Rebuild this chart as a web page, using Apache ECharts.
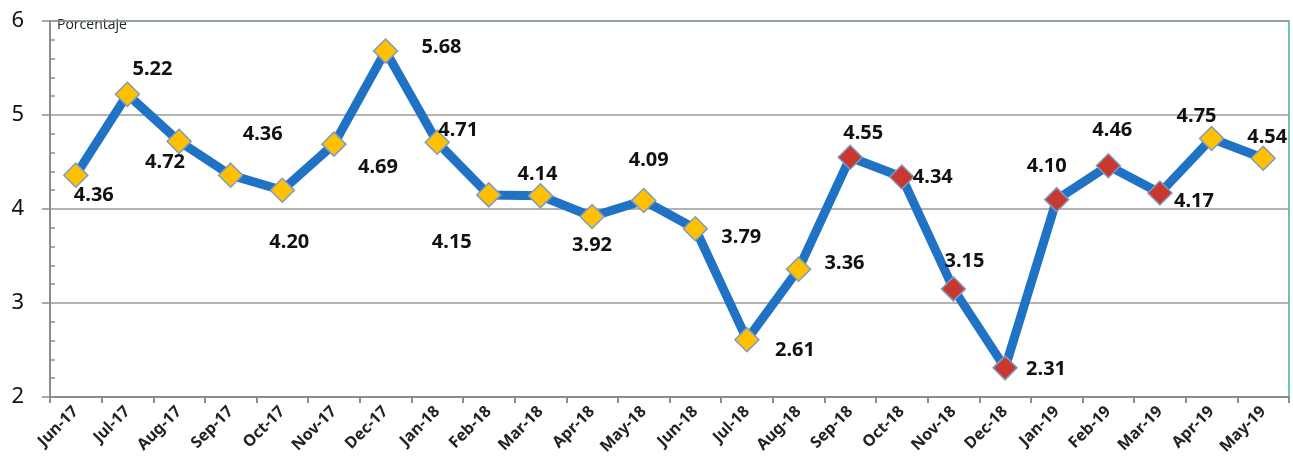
<!DOCTYPE html>
<html>
<head>
<meta charset="utf-8">
<script src="https://cdn.jsdelivr.net/npm/echarts@6/dist/echarts.min.js"></script>
<style>
  body { margin: 0; padding: 0; background: #fff; }
  #chart { width: 1293px; height: 473px; }
</style>
</head>
<body>
<div id="chart"></div>
<script>
  // categories and values
  var months = ['Jun-17', 'Jul-17', 'Aug-17', 'Sep-17', 'Oct-17', 'Nov-17', 'Dec-17', 'Jan-18',
    'Feb-18', 'Mar-18', 'Apr-18', 'May-18', 'Jun-18', 'Jul-18', 'Aug-18', 'Sep-18',
    'Oct-18', 'Nov-18', 'Dec-18', 'Jan-19', 'Feb-19', 'Mar-19', 'Apr-19', 'May-19'];
  var rates = [4.36, 5.22, 4.72, 4.36, 4.20, 4.69, 5.68, 4.71, 4.15, 4.14, 3.92, 4.09,
    3.79, 2.61, 3.36, 4.55, 4.34, 3.15, 2.31, 4.10, 4.46, 4.17, 4.75, 4.54];
  // months drawn with red markers
  var redMonths = ['Sep-18', 'Oct-18', 'Nov-18', 'Dec-18', 'Jan-19', 'Feb-19', 'Mar-19'];
  var yTicks = [2, 3, 4, 5, 6];

  // label offsets from the point, in px (layout only)
  var labelShift = [
    [18, 20], [25, -25], [-14, 21], [32, -41], [7, 52], [44, 23], [56, -4], [21, -12],
    [-37, 47], [-3, -22], [0, 29], [5, -40], [46, 9], [48, 11], [46, -6], [13, -24],
    [31, 0], [11, -28], [41, 1], [-10, -33], [4, -35], [34, 8], [-15, -22], [4, -21]
  ];

  var yellow = '#FFC000';
  var red = '#C8382E';
  var labelFont = 'Noto Sans';

  var points = rates.map(function (v, i) {
    var isRed = redMonths.indexOf(months[i]) >= 0;
    return {
      value: v,
      itemStyle: {
        color: isRed ? red : yellow,
        borderColor: '#7f9cc0',
        borderWidth: 1.5
      },
      label: {
        offset: labelShift[i]
      }
    };
  });

  var chart = echarts.init(document.getElementById('chart'));
  var option = {
    animation: false,
    grid: {
      left: 50,
      right: 4,
      top: 21,
      bottom: 76,
      show: true,
      borderColor: '#3cb878',
      borderWidth: 1.5
    },
    xAxis: {
      type: 'category',
      data: months,
      boundaryGap: true,
      axisLine: { lineStyle: { color: '#8c8c8c', width: 2 } },
      axisTick: { show: true, length: 6, lineStyle: { color: '#8c8c8c', width: 2 } },
      axisLabel: {
        interval: 0,
        rotate: 45,
        margin: 12,
        color: '#222',
        fontFamily: labelFont,
        fontWeight: 'bold',
        fontSize: 16
      }
    },
    yAxis: [
      {
        type: 'value',
        min: yTicks[0],
        max: yTicks[yTicks.length - 1],
        interval: 1,
        axisLine: { show: true, lineStyle: { color: '#8c8c8c', width: 2 } },
        axisTick: { show: true, length: 8, lineStyle: { color: '#8c8c8c', width: 1.5 } },
        axisLabel: {
          color: '#111',
          fontFamily: labelFont,
          fontSize: 22,
          margin: 26
        },
        splitLine: { lineStyle: { color: '#9a9a9a', width: 1.5 } }
      },
      {
        // second copy only to draw the small inner ticks
        type: 'value',
        position: 'left',
        min: yTicks[0],
        max: yTicks[yTicks.length - 1],
        interval: 1,
        axisLine: { show: false },
        axisTick: { show: false, inside: true },
        minorTick: { show: true, splitNumber: 5, length: 5, lineStyle: { color: '#8c8c8c', width: 1.5 } },
        axisLabel: { show: false },
        splitLine: { show: false }
      }
    ],
    graphic: [{
      type: 'text',
      left: 57,
      top: 18,
      style: {
        text: 'Porcentaje',
        fill: '#222',
        font: '14px "Open Sans"'
      }
    }],
    series: [{
      type: 'line',
      data: points,
      symbol: 'diamond',
      symbolSize: 24,
      lineStyle: { color: '#1f72c4', width: 9 },
      label: {
        show: true,
        position: 'inside',
        formatter: function (p) { return p.value.toFixed(2); },
        color: '#111',
        fontFamily: labelFont,
        fontWeight: 'bold',
        fontSize: 20
      },
      z: 3
    }]
  };
  chart.setOption(option);
</script>
</body>
</html>
